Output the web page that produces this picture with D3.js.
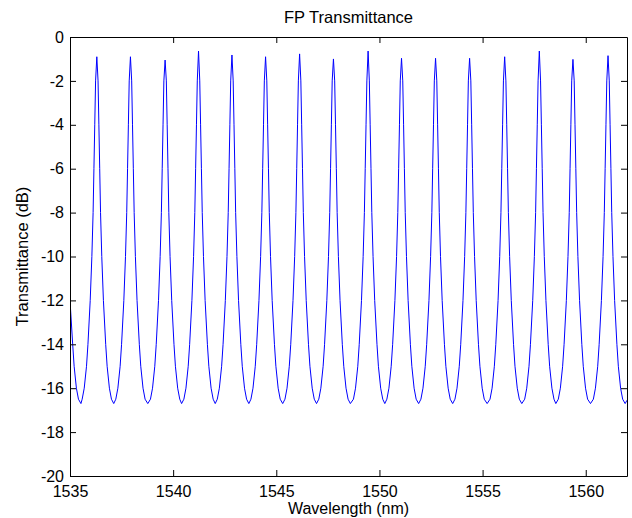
<!DOCTYPE html>
<html>
<head>
<meta charset="utf-8">
<script src="https://cdn.jsdelivr.net/npm/d3@7"></script>
<style>
  html, body { margin: 0; padding: 0; background: #fff; }
  svg { display: block; }
</style>
</head>
<body>
<svg id="chart" width="632" height="518"></svg>
<script>
// ---- data ----
const titleText = "FP Transmittance";
const xLabelText = "Wavelength (nm)";
const yLabelText = "Transmittance (dB)";

const xDomain = [1535, 1562];
const yDomain = [-20, 0];
const xTicks = [1535, 1540, 1545, 1550, 1555, 1560];
const yTicks = [-20, -18, -16, -14, -12, -10, -8, -6, -4, -2, 0];

// wavelength (nm) of each sampled point, one fringe per line
const wavelength = [
  1535.00, 1535.13, 1535.20, 1535.31, 1535.41, 1535.53,
  1535.59, 1535.69, 1535.80, 1535.87, 1535.98, 1536.06, 1536.12, 1536.16, 1536.20, 1536.24, 1536.30, 1536.36, 1536.40, 1536.44, 1536.48, 1536.54, 1536.62, 1536.73, 1536.80, 1536.91, 1537.01, 1537.12,
  1537.22, 1537.32, 1537.43, 1537.50, 1537.61, 1537.69, 1537.75, 1537.79, 1537.83, 1537.87, 1537.93, 1537.99, 1538.03, 1538.07, 1538.11, 1538.17, 1538.25, 1538.36, 1538.43, 1538.54, 1538.64, 1538.77,
  1538.90, 1539.00, 1539.11, 1539.18, 1539.29, 1539.37, 1539.43, 1539.47, 1539.51, 1539.55, 1539.61, 1539.67, 1539.71, 1539.75, 1539.79, 1539.85, 1539.93, 1540.04, 1540.11, 1540.22, 1540.32, 1540.41,
  1540.52, 1540.62, 1540.73, 1540.80, 1540.91, 1540.99, 1541.05, 1541.09, 1541.13, 1541.17, 1541.23, 1541.29, 1541.33, 1541.37, 1541.41, 1541.47, 1541.55, 1541.66, 1541.73, 1541.84, 1541.94, 1542.04,
  1542.14, 1542.24, 1542.35, 1542.42, 1542.53, 1542.61, 1542.67, 1542.71, 1542.75, 1542.79, 1542.85, 1542.91, 1542.95, 1542.99, 1543.03, 1543.09, 1543.17, 1543.28, 1543.35, 1543.46, 1543.56, 1543.67,
  1543.77, 1543.87, 1543.98, 1544.05, 1544.16, 1544.24, 1544.30, 1544.34, 1544.38, 1544.42, 1544.48, 1544.54, 1544.58, 1544.62, 1544.66, 1544.72, 1544.80, 1544.91, 1544.98, 1545.09, 1545.19, 1545.31,
  1545.42, 1545.52, 1545.63, 1545.70, 1545.81, 1545.89, 1545.95, 1545.99, 1546.03, 1546.07, 1546.13, 1546.19, 1546.23, 1546.27, 1546.31, 1546.37, 1546.45, 1546.56, 1546.63, 1546.74, 1546.84, 1546.95,
  1547.06, 1547.16, 1547.27, 1547.34, 1547.45, 1547.53, 1547.59, 1547.63, 1547.67, 1547.71, 1547.77, 1547.83, 1547.87, 1547.91, 1547.95, 1548.01, 1548.09, 1548.20, 1548.27, 1548.38, 1548.48, 1548.59,
  1548.74, 1548.84, 1548.95, 1549.02, 1549.13, 1549.21, 1549.27, 1549.31, 1549.35, 1549.39, 1549.45, 1549.51, 1549.55, 1549.59, 1549.63, 1549.69, 1549.77, 1549.88, 1549.95, 1550.06, 1550.16, 1550.26,
  1550.36, 1550.46, 1550.57, 1550.64, 1550.75, 1550.83, 1550.89, 1550.93, 1550.97, 1551.01, 1551.07, 1551.13, 1551.17, 1551.21, 1551.25, 1551.31, 1551.39, 1551.50, 1551.57, 1551.68, 1551.78, 1551.90,
  1552.01, 1552.11, 1552.22, 1552.29, 1552.40, 1552.48, 1552.54, 1552.58, 1552.62, 1552.66, 1552.72, 1552.78, 1552.82, 1552.86, 1552.90, 1552.96, 1553.04, 1553.15, 1553.22, 1553.33, 1553.43, 1553.55,
  1553.66, 1553.76, 1553.87, 1553.94, 1554.05, 1554.13, 1554.19, 1554.23, 1554.27, 1554.31, 1554.37, 1554.43, 1554.47, 1554.51, 1554.55, 1554.61, 1554.69, 1554.80, 1554.87, 1554.98, 1555.08, 1555.22,
  1555.36, 1555.46, 1555.57, 1555.64, 1555.75, 1555.83, 1555.89, 1555.93, 1555.97, 1556.01, 1556.07, 1556.13, 1556.17, 1556.21, 1556.25, 1556.31, 1556.39, 1556.50, 1556.57, 1556.68, 1556.78, 1556.90,
  1557.04, 1557.14, 1557.25, 1557.32, 1557.43, 1557.51, 1557.57, 1557.61, 1557.65, 1557.69, 1557.75, 1557.81, 1557.85, 1557.89, 1557.93, 1557.99, 1558.07, 1558.18, 1558.25, 1558.36, 1558.46, 1558.55,
  1558.67, 1558.77, 1558.88, 1558.95, 1559.06, 1559.14, 1559.20, 1559.24, 1559.28, 1559.32, 1559.38, 1559.44, 1559.48, 1559.52, 1559.56, 1559.62, 1559.70, 1559.81, 1559.88, 1559.99, 1560.09, 1560.23,
  1560.37, 1560.47, 1560.58, 1560.65, 1560.76, 1560.84, 1560.90, 1560.94, 1560.98, 1561.02, 1561.08, 1561.14, 1561.18, 1561.22, 1561.26, 1561.32, 1561.40, 1561.51, 1561.58, 1561.69, 1561.79, 1561.91,
  1562.00
];

// transmittance (dB) at each of those points, one fringe per line
const transmittance = [
  -12.0, -14, -15, -16, -16.5, -16.7,
  -16.5, -16, -15, -14, -12, -10, -8, -6, -4, -2, -0.90, -2, -4, -6, -8, -10, -12, -14, -15, -16, -16.5, -16.7,
  -16.5, -16, -15, -14, -12, -10, -8, -6, -4, -2, -0.90, -2, -4, -6, -8, -10, -12, -14, -15, -16, -16.5, -16.7,
  -16.5, -16, -15, -14, -12, -10, -8, -6, -4, -2, -1.05, -2, -4, -6, -8, -10, -12, -14, -15, -16, -16.5, -16.7,
  -16.5, -16, -15, -14, -12, -10, -8, -6, -4, -2, -0.64, -2, -4, -6, -8, -10, -12, -14, -15, -16, -16.5, -16.7,
  -16.5, -16, -15, -14, -12, -10, -8, -6, -4, -2, -0.82, -2, -4, -6, -8, -10, -12, -14, -15, -16, -16.5, -16.7,
  -16.5, -16, -15, -14, -12, -10, -8, -6, -4, -2, -0.90, -2, -4, -6, -8, -10, -12, -14, -15, -16, -16.5, -16.7,
  -16.5, -16, -15, -14, -12, -10, -8, -6, -4, -2, -0.77, -2, -4, -6, -8, -10, -12, -14, -15, -16, -16.5, -16.7,
  -16.5, -16, -15, -14, -12, -10, -8, -6, -4, -2, -1.00, -2, -4, -6, -8, -10, -12, -14, -15, -16, -16.5, -16.7,
  -16.5, -16, -15, -14, -12, -10, -8, -6, -4, -2, -0.64, -2, -4, -6, -8, -10, -12, -14, -15, -16, -16.5, -16.7,
  -16.5, -16, -15, -14, -12, -10, -8, -6, -4, -2, -0.97, -2, -4, -6, -8, -10, -12, -14, -15, -16, -16.5, -16.7,
  -16.5, -16, -15, -14, -12, -10, -8, -6, -4, -2, -0.97, -2, -4, -6, -8, -10, -12, -14, -15, -16, -16.5, -16.7,
  -16.5, -16, -15, -14, -12, -10, -8, -6, -4, -2, -0.97, -2, -4, -6, -8, -10, -12, -14, -15, -16, -16.5, -16.7,
  -16.5, -16, -15, -14, -12, -10, -8, -6, -4, -2, -0.90, -2, -4, -6, -8, -10, -12, -14, -15, -16, -16.5, -16.7,
  -16.5, -16, -15, -14, -12, -10, -8, -6, -4, -2, -0.64, -2, -4, -6, -8, -10, -12, -14, -15, -16, -16.5, -16.7,
  -16.5, -16, -15, -14, -12, -10, -8, -6, -4, -2, -1.02, -2, -4, -6, -8, -10, -12, -14, -15, -16, -16.5, -16.7,
  -16.5, -16, -15, -14, -12, -10, -8, -6, -4, -2, -0.85, -2, -4, -6, -8, -10, -12, -14, -15, -16, -16.5, -16.7,
  -16.55
];

// ---- layout ----
const W = 632, H = 518;
const plot = { left: 70, right: 627, top: 37, bottom: 476 };
const FONT = "'Liberation Sans', Arial, Helvetica, sans-serif";

const svg = d3.select("#chart");
svg.append("rect").attr("width", W).attr("height", H).attr("fill", "#ffffff");

const x = d3.scaleLinear().domain(xDomain).range([plot.left, plot.right]);
const y = d3.scaleLinear().domain(yDomain).range([plot.bottom, plot.top]);

const points = wavelength.map((w, i) => ({ w, t: transmittance[i] }));

// clip
svg.append("defs").append("clipPath").attr("id", "clip")
  .append("rect")
  .attr("x", plot.left).attr("y", plot.top)
  .attr("width", plot.right - plot.left).attr("height", plot.bottom - plot.top);

// data line
const line = d3.line().x(d => x(d.w)).y(d => y(d.t));
svg.append("path")
  .datum(points)
  .attr("clip-path", "url(#clip)")
  .attr("fill", "none")
  .attr("stroke", "#0000ff")
  .attr("stroke-width", 1)
  .attr("stroke-linejoin", "round")
  .attr("d", line);

// axes (MATLAB style: inward ticks, box on)
function styleAxis(g, showText) {
  g.selectAll(".domain").attr("stroke", "#000").attr("stroke-width", 1);
  g.selectAll(".tick line").attr("stroke", "#000").attr("stroke-width", 1);
  g.selectAll(".tick text")
    .attr("fill", "#000")
    .style("font-family", FONT)
    .style("font-size", "16px");
  if (!showText) g.selectAll(".tick text").remove();
}

const gx = svg.append("g")
  .attr("transform", `translate(0,${plot.bottom})`)
  .call(d3.axisBottom(x).tickValues(xTicks).tickFormat(d3.format("d"))
    .tickSizeInner(-6).tickSizeOuter(0).tickPadding(10));
styleAxis(gx, true);

const gxTop = svg.append("g")
  .attr("transform", `translate(0,${plot.top})`)
  .call(d3.axisTop(x).tickValues(xTicks).tickFormat("")
    .tickSizeInner(-6).tickSizeOuter(0));
styleAxis(gxTop, false);

const gy = svg.append("g")
  .attr("transform", `translate(${plot.left},0)`)
  .call(d3.axisLeft(y).tickValues(yTicks).tickFormat(d3.format("d"))
    .tickSizeInner(-6).tickSizeOuter(0).tickPadding(6));
styleAxis(gy, true);
gy.selectAll(".tick text").text(d => d < 0 ? "-" + Math.abs(d) : String(d));

const gyRight = svg.append("g")
  .attr("transform", `translate(${plot.right},0)`)
  .call(d3.axisRight(y).tickValues(yTicks).tickFormat("")
    .tickSizeInner(-6).tickSizeOuter(0));
styleAxis(gyRight, false);

// title
svg.append("text")
  .attr("x", (plot.left + plot.right) / 2)
  .attr("y", 23)
  .attr("text-anchor", "middle")
  .style("font-family", FONT)
  .style("font-size", "16.5px")
  .attr("fill", "#000")
  .text(titleText);

// x label
svg.append("text")
  .attr("x", (plot.left + plot.right) / 2)
  .attr("y", 514)
  .attr("text-anchor", "middle")
  .style("font-family", FONT)
  .style("font-size", "16px")
  .attr("fill", "#000")
  .text(xLabelText);

// y label
svg.append("text")
  .attr("transform", `translate(28,${(plot.top + plot.bottom) / 2}) rotate(-90)`)
  .attr("text-anchor", "middle")
  .style("font-family", FONT)
  .style("font-size", "16.5px")
  .attr("fill", "#000")
  .text(yLabelText);
</script>
</body>
</html>
